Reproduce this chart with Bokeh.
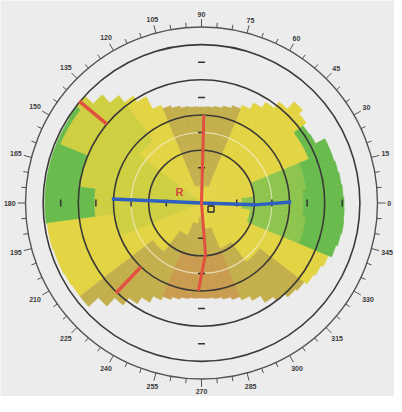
import numpy as np
from bokeh.plotting import figure
from bokeh.models import ColumnDataSource
from bokeh.embed import file_html
from bokeh.resources import INLINE
from bokeh.core.properties import value

# ---------------- data ----------------
# colour zones: 15-degree sectors (centre angle, counter-clockwise from 0 = right)
sector_centers = [0, 15, 30, 45, 60, 75, 90, 105, 120, 135, 150, 165,
                  180, 195, 210, 225, 240, 255, 270, 285, 300, 315, 330, 345]
# radii (map units, outer ring = 10) where the colour changes, going outwards
sector_breaks = [
    [2.3, 5.8], [3.0, 6.0], [6.6], [], [],
    [1.0], [0.8], [1.0], [], [4.5],
    [8.7], [7.0], [6.1], [5.0], [],
    [3.5], [2.0], [1.2, 3.0], [0.8, 3.0], [1.5, 3.0],
    [2.8], [4.2], [], [2.8, 6.0],
]
sector_zones = [
    ["Y", "G1", "G2"], ["Y", "G1", "G2"], ["Y", "G2"], ["Y"], ["Y"],
    ["Y", "O"], ["Y", "O"], ["Y", "O"], ["Y"], ["Y", "YG"],
    ["YG", "G2"], ["YG", "G2"], ["YG", "G2"], ["YG", "Y"], ["Y"],
    ["Y", "O"], ["Y", "O"], ["Y", "O", "T"], ["Y", "O", "T"], ["Y", "O", "T"],
    ["Y", "O"], ["Y", "O"], ["Y"], ["Y", "G1", "G2"],
]
zone_colors = {"G2": "#68bb4c", "G1": "#8dc54e", "YG": "#cfcf42",
               "Y": "#e3d444", "O": "#c3b04d", "T": "#c99c50"}

# outer limit of the measured area, every 5 degrees from 0 to 355
edge_step = 5
edge_radius = [8.1, 8.05, 8.0, 7.95, 7.9, 7.9, 7.3, 7.25, 7.5, 7.8, 7.24, 6.78,
               6.41, 6.01, 5.8, 5.64, 5.53, 5.47, 5.45, 5.47, 5.53, 5.64, 5.8, 6.01,
               6.81, 7.2, 7.7, 8.34, 9.0, 8.95, 8.9, 8.9, 8.9, 8.9, 8.9, 8.9,
               8.9, 8.9, 8.85, 8.85, 8.8, 8.8, 8.75, 8.7, 8.7, 7.95, 7.31, 6.78,
               6.35, 5.96, 5.75, 5.59, 5.48, 5.42, 5.4, 5.42, 5.48, 5.59, 5.75, 5.96,
               6.24, 6.7, 6.96, 7.25, 7.36, 7.55, 7.66, 7.8, 8.0, 8.1, 8.15, 8.12]

zone_rings = [3, 5, 7, 9]          # dark rings
outer_ring = 10
pupil_ring = 4                      # light ring
axis_tick_positions = [-8, -6, -4, -2, 2, 4, 6, 8]

degree_ticks = list(range(0, 360, 5))
degree_labels = [str(a) for a in range(0, 360, 15)]

# steep meridian (red) and flat meridian (blue): (radius, angle deg)
red_meridian_r = [5.0, 0.0, 2.9, 5.0]
red_meridian_a = [88.5, 0.0, 274.5, 268.0]
blue_meridian_r = [5.1, 0.0, 3.05, 5.1]
blue_meridian_a = [177.4, 0.0, 358.0, 0.6]
red_marks_r0 = [7.0, 5.0]
red_marks_r1 = [9.05, 7.05]
red_marks_a = [140.2, 226.5]

# ---------------- figure ----------------
W, H = 394, 396
scale = 17.6
cx, cy = 201.0, 202.5
p = figure(width=W, height=H, output_backend="svg", toolbar_location=None,
           x_range=(-cx / scale, (W - cx) / scale),
           y_range=(-(H - cy) / scale, cy / scale),
           min_border=0)
p.axis.visible = False
p.grid.visible = False
p.outline_line_color = None
p.background_fill_color = "#ececed"
p.border_fill_color = "#ececed"

# colour map cells (5-degree wedges, colours from the 15-degree zone table)
inner, outer, start, end, cols = [], [], [], [], []
for k, edge in enumerate(edge_radius):
    a = k * edge_step
    s = int(round(a / 15.0)) % len(sector_centers)
    bounds = [0.0] + [b for b in sector_breaks[s]] + [edge]
    for i, z in enumerate(sector_zones[s]):
        r0 = bounds[i]
        r1 = bounds[i + 1] if i + 1 < len(bounds) - 1 else edge
        r1 = min(r1, edge)
        if r0 >= edge:
            break
        inner.append(r0)
        outer.append(r1)
        start.append(np.deg2rad(a - edge_step / 2))
        end.append(np.deg2rad(a + edge_step / 2))
        cols.append(zone_colors[z])
src = ColumnDataSource(dict(x=[0] * len(inner), y=[0] * len(inner), ir=inner, orr=outer,
                            sa=start, ea=end, c=cols))
p.annular_wedge(x="x", y="y", inner_radius="ir", outer_radius="orr",
                start_angle="sa", end_angle="ea", fill_color="c",
                line_color="c", line_width=0.6, source=src)

# rings
p.circle(x=[0], y=[0], radius=[pupil_ring], fill_color=None,
         line_color="#f3f0d6", line_width=1.2, line_alpha=0.7)
p.circle(x=[0] * len(zone_rings), y=[0] * len(zone_rings), radius=zone_rings,
         fill_color=None, line_color="#3c3a36", line_width=1.6)
p.circle(x=[0], y=[0], radius=[outer_ring], fill_color=None,
         line_color="#55534f", line_width=1.4)

# small axis ticks
tp = np.array(axis_tick_positions, dtype=float)
h = 0.2
p.segment(x0=tp, y0=-h, x1=tp, y1=h, line_color="#333333", line_width=1.5)
p.segment(x0=-h, y0=tp, x1=h, y1=tp, line_color="#333333", line_width=1.5)

# degree scale
R = outer_ring
da = np.deg2rad(np.array(degree_ticks, dtype=float))
tick_len = np.array([0.45 if d % 15 == 0 else 0.28 for d in degree_ticks])
p.segment(x0=R * np.cos(da), y0=R * np.sin(da),
          x1=(R + tick_len) * np.cos(da), y1=(R + tick_len) * np.sin(da),
          line_color="#55534f", line_width=1.0)
la = np.deg2rad(np.array([int(s) for s in degree_labels], dtype=float))
wid = np.array([len(s) * 0.23 for s in degree_labels])
rl = R + 0.55 + wid / 2 * np.abs(np.cos(la)) + 0.15 * np.abs(np.sin(la))
p.text(x=rl * np.cos(la), y=rl * np.sin(la), text=degree_labels,
       text_font=value("Liberation Sans"), text_font_style="bold",
       text_font_size="7px", text_color="#3a3a3a",
       text_align="center", text_baseline="middle")

# meridians
def pol(r, a):
    a = np.deg2rad(np.array(a, dtype=float))
    r = np.array(r, dtype=float)
    return r * np.cos(a), r * np.sin(a)

bx, by = pol(blue_meridian_r, blue_meridian_a)
p.line(bx, by, line_color="#2f5fbf", line_width=3.5)
rx, ry = pol(red_meridian_r, red_meridian_a)
p.line(rx, ry, line_color="#e2513f", line_width=3)
ma = np.deg2rad(np.array(red_marks_a))
p.segment(x0=np.array(red_marks_r0) * np.cos(ma), y0=np.array(red_marks_r0) * np.sin(ma),
          x1=np.array(red_marks_r1) * np.cos(ma), y1=np.array(red_marks_r1) * np.sin(ma),
          line_color="#e2513f", line_width=3.5)

# markers near centre
p.text(x=[-1.25], y=[0.65], text=["R"], text_font=value("Liberation Sans"),
       text_font_style="bold", text_font_size="11px", text_color="#d9473c",
       text_align="center", text_baseline="middle")
p.scatter(x=[0.54], y=[-0.34], marker="square", size=6, fill_color=None,
          line_color="#2a2a2a", line_width=1.4)

open("out.html", "w").write(file_html(p, INLINE))
